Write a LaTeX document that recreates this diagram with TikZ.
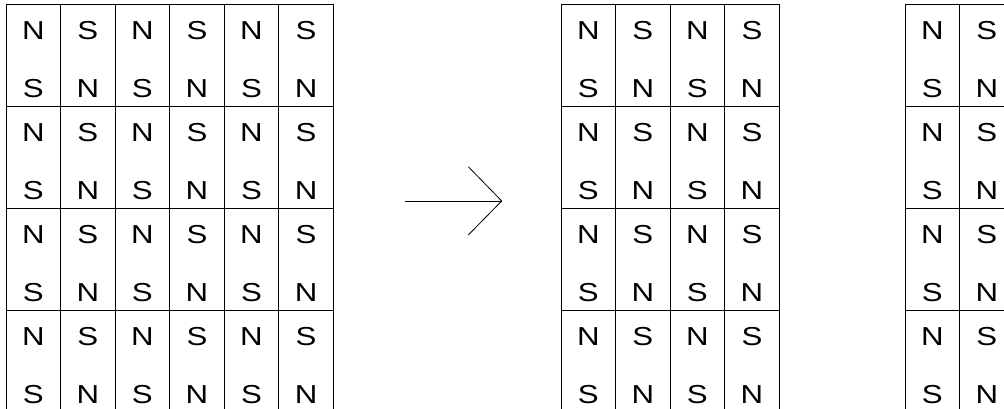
\documentclass[tikz,border=0pt]{standalone}
\usepackage{fontspec}
\setmainfont{Liberation Sans}[FakeStretch=1.2]
\begin{document}
\begin{tikzpicture}[x=1pt,y=-1pt,
  gridline/.style={draw=black, line width=0.8pt},
  pole/.style={font=\fontsize{26}{30}\selectfont, inner sep=0pt, anchor=center},
  arrowline/.style={draw=black, line width=0.8pt}]
\useasboundingbox (0,0) rectangle (1004,409);
\clip (0,0) rectangle (1004,409);
\def\cw{54.55}
\foreach \g/\xo/\n in {a/6/6, b/561/4, c/905/2} {
  % vertical lines
  \foreach \i in {0,...,\n} {
    \draw[gridline] ({\xo+\i*\cw},4) -- ({\xo+\i*\cw},412);
  }
  % horizontal lines
  \foreach \blk in {0,1,2,3} {
    \draw[gridline] (\xo,{4+102*\blk}) -- ({\xo+\n*\cw},{4+102*\blk});
  }
  \pgfmathtruncatemacro\last{\n-1}
  \foreach \blk in {0,1,2,3} {
    \foreach \col in {0,...,\last} {
      \node[pole] (\g-\blk-\col-t) at ({\xo+(\col+0.5)*\cw},{4+102*\blk+27}) {\ifodd\col S\else N\fi};
      \node[pole] (\g-\blk-\col-b) at ({\xo+(\col+0.5)*\cw},{4+102*\blk+85}) {\ifodd\col N\else S\fi};
    }
  }
}
% arrow
\coordinate (atail) at (405,201);
\coordinate (atip) at (501.7,201);
\coordinate (barbu) at (468.3,166.7);
\coordinate (barbl) at (468.3,235);
\draw[arrowline] (atail) -- (atip);
\draw[arrowline] (barbu) -- (atip) -- (barbl);
\end{tikzpicture}
\end{document}
